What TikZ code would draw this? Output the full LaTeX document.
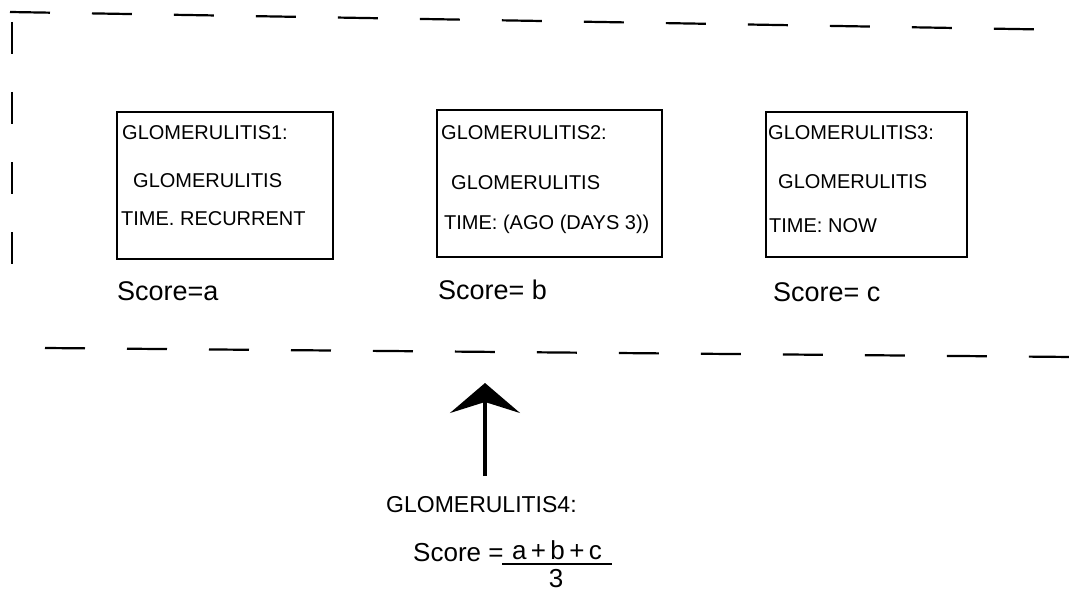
\documentclass[tikz,border=0pt]{standalone}
\usepackage{fontspec}
\setmainfont{Liberation Sans}
\usetikzlibrary{arrows.meta}
\begin{document}
\begin{tikzpicture}[x=1pt,y=-1pt,
  frameline/.style={line width=2.2pt, dash pattern=on 40pt off 42pt},
  card/.style={draw, line width=1.8pt, inner sep=0pt, outer sep=0pt},
  cardtext/.style={anchor=west, inner sep=0pt, font=\fontsize{20}{22}\selectfont},
  scoretext/.style={anchor=west, inner sep=0pt, font=\fontsize{27}{30}\selectfont},
  bigtext/.style={inner sep=0pt, font=\fontsize{23}{26}\selectfont},
  fractext/.style={inner sep=0pt, font=\fontsize{26}{28}\selectfont}]
\useasboundingbox (0,0) rectangle (1073,599);

% dashed frame (open on the right)
\coordinate (ftl) at (10,12);
\coordinate (ftr) at (1073,30);
\coordinate (fbl) at (45,348);
\coordinate (fbr) at (1073,357);
\coordinate (fl1) at (12,22);
\coordinate (fl2) at (12,300);
\draw[frameline] (ftl) -- (ftr);
\draw[frameline] (fbl) -- (fbr);
\draw[line width=1.8pt, dash pattern=on 32pt off 38pt] (fl1) -- (fl2);

% cards
\node[card, minimum width=216pt, minimum height=147pt] (c1) at (225,185.5) {};
\node[card, minimum width=225pt, minimum height=147pt] (c2) at (549.5,183.5) {};
\node[card, minimum width=201pt, minimum height=145pt] (c3) at (866.5,184.5) {};

\node[cardtext] (c1a) at (122,133) {GLOMERULITIS1:};
\node[cardtext] (c1b) at (133,181) {GLOMERULITIS};
\node[cardtext] (c1c) at (121,219) {TIME. RECURRENT};

\node[cardtext] (c2a) at (441,133) {GLOMERULITIS2:};
\node[cardtext] (c2b) at (451,183) {GLOMERULITIS};
\node[cardtext] (c2c) at (444,224) {TIME: (AGO (DAYS 3))};

\node[cardtext] (c3a) at (768,133) {GLOMERULITIS3:};
\node[cardtext] (c3b) at (778,182) {GLOMERULITIS};
\node[cardtext] (c3c) at (769,226) {TIME: NOW};

\node[scoretext] (s1) at (117,291) {Score=a};
\node[scoretext] (s2) at (438,290) {Score= b};
\node[scoretext] (s3) at (773,292) {Score= c};

% arrow and aggregate
\node[bigtext, anchor=west] (g4) at (386,505) {GLOMERULITIS4:};
\coordinate (arrtail) at (485,476);
\coordinate (arrtip) at (485,383);
\draw[line width=3.2pt, -{Stealth[length=30pt, width=70pt, inset=11pt]}] (arrtail) -- (arrtip);

\node[fractext, anchor=west] (sc) at (413,553) {Score =};
\node[fractext, anchor=south] (num) at (557,560) {a\,+\,b\,+\,c};
\coordinate (barl) at (502,564);
\coordinate (barr) at (612,564);
\draw[line width=2pt] (barl) -- (barr);
\node[fractext, anchor=north] (den) at (556,569) {3};
\end{tikzpicture}
\end{document}
